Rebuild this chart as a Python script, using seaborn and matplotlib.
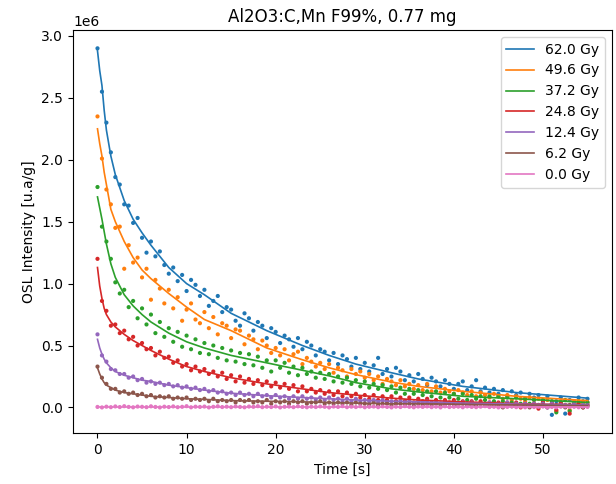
import numpy as np
import pandas as pd
import matplotlib
matplotlib.use("Agg")
import matplotlib.pyplot as plt
import seaborn as sns

# ---------------- data (intensities in units of 1e6 u.a/g) ----------------
UNIT = 1e6
doses = ["62.0 Gy", "49.6 Gy", "37.2 Gy", "24.8 Gy", "12.4 Gy", "6.2 Gy", "0.0 Gy"]

# measured channels every 0.5 s from 0 to 55 s
time_s = np.arange(0.0, 55.01, 0.5)

pts_62_0 = [2.90, 2.55, 2.30, 2.06, 1.86, 1.80, 1.64, 1.63, 1.49, 1.53,
            1.37, 1.25, 1.34, 1.22, 1.26, 1.15, 1.08, 1.13, 1.02, 1.07,
            0.94, 1.03, 0.99, 0.90, 0.95, 0.82, 0.86, 0.90, 0.77, 0.81,
            0.79, 0.70, 0.66, 0.76, 0.72, 0.62, 0.69, 0.66, 0.56, 0.64,
            0.61, 0.52, 0.58, 0.55, 0.49, 0.56, 0.47, 0.53, 0.50, 0.42,
            0.47, 0.45, 0.38, 0.44, 0.35, 0.42, 0.39, 0.33, 0.40, 0.31,
            0.36, 0.29, 0.34, 0.40, 0.27, 0.31, 0.25, 0.32, 0.29, 0.22,
            0.26, 0.21, 0.27, 0.23, 0.18, 0.24, 0.21, 0.17, 0.22, 0.19,
            0.15, 0.19, 0.21, 0.14, 0.17, 0.22, 0.13, 0.16, 0.12, 0.15,
            0.11, 0.14, 0.09, 0.13, 0.10, 0.12, 0.07, 0.11, 0.08, 0.10,
            0.06, 0.09, -0.06, 0.05, 0.08, -0.05, 0.06, 0.03, 0.08, 0.05,
            0.07]
pts_49_6 = [2.35, 2.01, 1.76, 1.64, 1.45, 1.46, 1.12, 1.31, 1.17, 1.21,
            1.05, 1.12, 0.87, 1.03, 0.96, 0.84, 0.95, 0.80, 0.89, 0.70,
            0.79, 0.84, 0.71, 0.68, 0.77, 0.64, 0.73, 0.59, 0.68, 0.66,
            0.56, 0.63, 0.62, 0.51, 0.58, 0.55, 0.47, 0.54, 0.50, 0.44,
            0.48, 0.42, 0.47, 0.38, 0.43, 0.45, 0.35, 0.40, 0.37, 0.33,
            0.36, 0.31, 0.35, 0.28, 0.32, 0.30, 0.25, 0.31, 0.27, 0.29,
            0.24, 0.27, 0.22, 0.25, 0.19, 0.23, 0.21, 0.18, 0.22, 0.17,
            0.19, 0.15, 0.18, 0.14, 0.19, 0.13, 0.17, 0.12, 0.15, 0.13,
            0.11, 0.14, 0.12, 0.10, 0.13, 0.09, 0.12, 0.10, 0.08, 0.11,
            0.09, 0.07, 0.10, 0.06, 0.09, 0.07, 0.05, 0.08, 0.06, 0.07,
            0.04, 0.06, 0.03, -0.03, 0.05, 0.02, -0.02, 0.05, 0.03, 0.04,
            0.04]
pts_37_2 = [1.78, 1.46, 1.34, 1.20, 1.01, 0.92, 0.95, 0.81, 0.86, 0.72,
            0.80, 0.67, 0.75, 0.60, 0.69, 0.57, 0.64, 0.53, 0.61, 0.49,
            0.58, 0.47, 0.55, 0.44, 0.52, 0.43, 0.50, 0.40, 0.48, 0.38,
            0.46, 0.37, 0.44, 0.35, 0.43, 0.34, 0.41, 0.32, 0.38, 0.29,
            0.38, 0.32, 0.36, 0.28, 0.33, 0.26, 0.32, 0.27, 0.29, 0.24,
            0.28, 0.23, 0.27, 0.21, 0.25, 0.20, 0.24, 0.19, 0.22, 0.17,
            0.21, 0.16, 0.19, 0.15, 0.18, 0.14, 0.17, 0.12, 0.16, 0.11,
            0.15, 0.11, 0.14, 0.10, 0.13, 0.09, 0.13, 0.08, 0.12, 0.08,
            0.11, 0.07, 0.11, 0.06, 0.10, 0.07, 0.09, 0.06, 0.09, 0.05,
            0.09, 0.05, 0.08, 0.04, 0.08, 0.03, 0.07, 0.03, 0.06, 0.02,
            0.06, 0.01, 0.05, -0.04, 0.04, 0.06, -0.03, 0.03, 0.05, 0.02,
            0.04]
pts_24_8 = [1.20, 0.86, 0.78, 0.66, 0.67, 0.60, 0.62, 0.55, 0.57, 0.50,
            0.52, 0.47, 0.48, 0.42, 0.45, 0.40, 0.41, 0.36, 0.38, 0.33,
            0.35, 0.30, 0.33, 0.29, 0.31, 0.27, 0.29, 0.25, 0.28, 0.23,
            0.26, 0.21, 0.25, 0.20, 0.23, 0.19, 0.22, 0.18, 0.21, 0.17,
            0.20, 0.16, 0.19, 0.15, 0.18, 0.13, 0.17, 0.13, 0.15, 0.12,
            0.14, 0.11, 0.13, 0.10, 0.13, 0.09, 0.12, 0.09, 0.11, 0.08,
            0.10, 0.07, 0.10, 0.06, 0.09, 0.06, 0.09, 0.05, 0.08, 0.05,
            0.08, 0.04, 0.07, 0.05, 0.07, 0.04, 0.06, 0.03, 0.06, 0.04,
            0.06, 0.03, 0.05, 0.02, 0.05, 0.03, 0.05, 0.02, 0.04, 0.03,
            0.04, 0.01, 0.04, 0.02, 0.04, 0.00, 0.03, 0.02, 0.03, -0.01,
            0.04, 0.01, 0.03, -0.02, 0.03, 0.01, -0.05, 0.02, 0.03, 0.00,
            0.02]
pts_12_4 = [0.59, 0.42, 0.37, 0.31, 0.30, 0.27, 0.27, 0.24, 0.25, 0.22,
            0.23, 0.20, 0.21, 0.19, 0.20, 0.18, 0.19, 0.17, 0.18, 0.16,
            0.17, 0.15, 0.16, 0.14, 0.15, 0.13, 0.14, 0.12, 0.13, 0.11,
            0.12, 0.10, 0.12, 0.10, 0.11, 0.09, 0.11, 0.09, 0.10, 0.08,
            0.10, 0.08, 0.09, 0.07, 0.09, 0.07, 0.09, 0.07, 0.08, 0.06,
            0.08, 0.06, 0.08, 0.06, 0.07, 0.05, 0.07, 0.05, 0.07, 0.05,
            0.06, 0.05, 0.06, 0.04, 0.06, 0.04, 0.05, 0.04, 0.05, 0.04,
            0.05, 0.03, 0.05, 0.04, 0.05, 0.03, 0.04, 0.03, 0.04, 0.03,
            0.04, 0.03, 0.04, 0.02, 0.04, 0.02, 0.03, 0.02, 0.04, 0.02,
            0.03, 0.02, 0.04, 0.01, 0.03, 0.02, 0.03, 0.01, 0.03, 0.02,
            0.03, 0.00, 0.03, 0.01, 0.02, 0.02, 0.01, 0.03, 0.01, 0.02,
            0.02]
pts_6_2 = [0.33, 0.24, 0.19, 0.15, 0.15, 0.12, 0.13, 0.11, 0.12, 0.10,
           0.11, 0.09, 0.10, 0.08, 0.09, 0.08, 0.09, 0.07, 0.08, 0.07,
           0.08, 0.06, 0.07, 0.06, 0.07, 0.05, 0.07, 0.05, 0.06, 0.05,
           0.06, 0.04, 0.06, 0.05, 0.06, 0.04, 0.05, 0.04, 0.06, 0.03,
           0.05, 0.04, 0.05, 0.03, 0.05, 0.04, 0.05, 0.03, 0.04, 0.04,
           0.05, 0.03, 0.04, 0.03, 0.04, 0.03, 0.04, 0.02, 0.04, 0.03,
           0.03, 0.02, 0.04, 0.02, 0.03, 0.03, 0.02, 0.03, 0.03, 0.02,
           0.03, 0.01, 0.03, 0.02, 0.03, 0.02, 0.03, 0.01, 0.02, 0.03,
           0.02, 0.01, 0.03, 0.02, 0.02, 0.01, 0.03, 0.02, 0.01, 0.02,
           0.02, 0.00, 0.02, 0.01, 0.02, 0.01, 0.02, 0.00, 0.02, 0.01,
           0.02, 0.00, 0.01, 0.02, 0.01, 0.00, 0.02, 0.01, 0.01, 0.00,
           0.01]
pts_0_0 = [0.004, 0.000, 0.006, 0.002, 0.008, 0.003, 0.010, 0.004, 0.001, 0.007,
           0.005, 0.002, 0.009, 0.004, 0.000, 0.006, 0.003, 0.008, 0.002, 0.005,
           0.010, 0.001, 0.006, 0.004, 0.007, 0.000, 0.005, 0.009, 0.003, 0.006,
           0.002, 0.008, 0.004, 0.001, 0.007, 0.005, 0.010, 0.002, 0.006, 0.003,
           0.008, 0.000, 0.005, 0.007, 0.002, 0.009, 0.004, 0.001, 0.006, 0.003,
           0.008, 0.005, 0.000, 0.007, 0.004, 0.010, 0.002, 0.006, 0.003, 0.009,
           0.001, 0.005, 0.007, 0.002, 0.008, 0.004, 0.000, 0.006, 0.003, 0.010,
           0.005, 0.001, 0.007, 0.004, 0.008, 0.002, 0.006, 0.000, 0.009, 0.003,
           0.005, 0.007, 0.001, 0.008, 0.004, 0.002, 0.006, 0.010, 0.003, 0.005,
           0.000, 0.007, 0.004, 0.008, 0.002, 0.006, 0.001, 0.009, 0.003, 0.005,
           0.007, 0.002, 0.004, 0.000, 0.006, 0.008, 0.003, 0.005, 0.001, 0.007,
           0.004]

# fitted decay curves, read at these times
fit_time = [0, 0.25, 0.5, 0.75, 1, 1.5, 2, 3, 4, 5, 6, 8, 10, 12, 15, 19,
            23, 26, 29, 33, 36, 41, 47, 55]
fit_62_0 = [2.88, 2.72, 2.60, 2.40, 2.24, 2.03, 1.88, 1.67, 1.52, 1.41, 1.31, 1.13,
            1.00, 0.91, 0.76, 0.62, 0.50, 0.42, 0.35, 0.28, 0.23, 0.17, 0.12, 0.075]
fit_49_6 = [2.25, 2.13, 2.03, 1.90, 1.80, 1.60, 1.50, 1.34, 1.21, 1.11, 1.04, 0.92,
            0.81, 0.71, 0.62, 0.48, 0.385, 0.32, 0.265, 0.205, 0.17, 0.13, 0.09, 0.055]
fit_37_2 = [1.70, 1.61, 1.52, 1.42, 1.32, 1.16, 1.05, 0.91, 0.82, 0.75, 0.69, 0.60,
            0.53, 0.48, 0.42, 0.36, 0.30, 0.255, 0.20, 0.15, 0.125, 0.09, 0.07, 0.04]
fit_24_8 = [1.13, 0.98, 0.88, 0.80, 0.75, 0.69, 0.65, 0.59, 0.54, 0.50, 0.46, 0.39,
            0.33, 0.29, 0.24, 0.19, 0.15, 0.12, 0.10, 0.075, 0.06, 0.045, 0.03, 0.02]
fit_12_4 = [0.55, 0.48, 0.43, 0.39, 0.36, 0.32, 0.29, 0.26, 0.24, 0.22, 0.21, 0.18,
            0.16, 0.14, 0.115, 0.095, 0.08, 0.07, 0.06, 0.05, 0.045, 0.035, 0.027, 0.02]
fit_6_2 = [0.32, 0.27, 0.23, 0.20, 0.18, 0.16, 0.14, 0.12, 0.11, 0.10, 0.09, 0.08,
           0.07, 0.065, 0.055, 0.05, 0.045, 0.04, 0.035, 0.03, 0.03, 0.025, 0.02, 0.015]
fit_0_0 = [0.004, 0.004, 0.004, 0.004, 0.004, 0.004, 0.004, 0.004, 0.004, 0.004,
           0.004, 0.004, 0.004, 0.004, 0.004, 0.004, 0.004, 0.004, 0.004, 0.004,
           0.004, 0.004, 0.004, 0.004]

points = [pts_62_0, pts_49_6, pts_37_2, pts_24_8, pts_12_4, pts_6_2, pts_0_0]
fits = [fit_62_0, fit_49_6, fit_37_2, fit_24_8, fit_12_4, fit_6_2, fit_0_0]

# ---------------- tables ----------------
pts_df = pd.concat([
    pd.DataFrame({"Time": time_s, "OSL": np.asarray(v) * UNIT, "Dose": d})
    for d, v in zip(doses, points)], ignore_index=True)
fit_df = pd.concat([
    pd.DataFrame({"Time": fit_time, "OSL": np.asarray(v) * UNIT, "Dose": d})
    for d, v in zip(doses, fits)], ignore_index=True)

palette = dict(zip(doses, sns.color_palette("tab10", 7)))

# ---------------- figure ----------------
fig = plt.figure(figsize=(6.16, 4.84), dpi=100)
ax = fig.add_axes([0.1185, 0.105, 0.875, 0.833])

sns.scatterplot(data=pts_df, x="Time", y="OSL", hue="Dose", hue_order=doses,
                palette=palette, s=9, linewidth=0, legend=False, ax=ax)
sns.lineplot(data=fit_df, x="Time", y="OSL", hue="Dose", hue_order=doses,
             palette=palette, linewidth=1.2, ax=ax)

handles, labels = ax.get_legend_handles_labels()
ax.legend(handles, labels, loc="upper right")

ax.set_title("Al2O3:C,Mn F99%, 0.77 mg")
ax.set_xlabel("Time [s]")
ax.set_ylabel("OSL Intensity [u.a/g]")

fig.savefig("out.png", dpi=100)
